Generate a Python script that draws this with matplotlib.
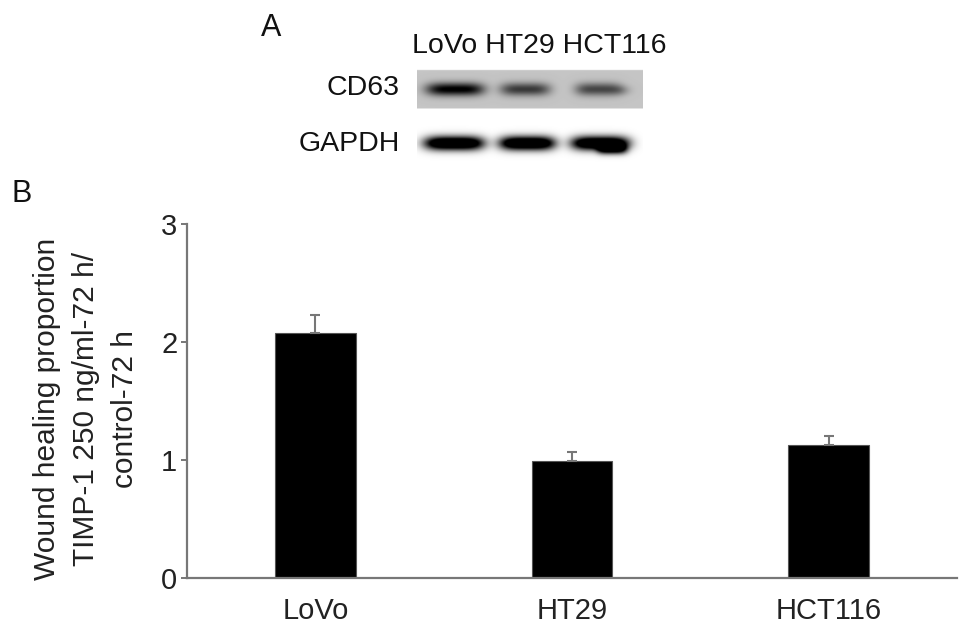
import numpy as np
import matplotlib
matplotlib.use("Agg")
import matplotlib.pyplot as plt

plt.rcParams['font.family'] = ['Liberation Sans', 'DejaVu Sans']

# panel B data
cells = ['LoVo', 'HT29', 'HCT116']
ratio = [2.08, 0.99, 1.13]
ratio_err = [0.15, 0.075, 0.075]

# panel A: relative band darkness per lane
cd63_level = [0.8, 0.55, 0.5]
gapdh_level = [1.0, 1.0, 1.0]

ylabel_lines = ['Wound healing proportion', 'TIMP-1 250 ng/ml-72 h/', 'control-72 h']

W, H = 969, 631
fig = plt.figure(figsize=(W / 100, H / 100), dpi=100)

#* Panel A - western blot
x0, x1, y0, y1 = 417, 643, 62, 168
axb = fig.add_axes([x0 / W, 1 - y1 / H, (x1 - x0) / W, (y1 - y0) / H])
xx, yy = np.meshgrid(np.arange(x0, x1, 0.5), np.arange(y0, y1, 0.5))
img = np.zeros_like(xx)
img[(yy >= 70) & (yy <= 108)] = 0.23

lane_x = [455, 525, 598]
half_w = [29, 25, 23]
for cx, hw, lvl in zip(lane_x, half_w, cd63_level):
    img += lvl * np.exp(-((xx - cx) / hw) ** 4) * np.exp(-((yy - 89) / 6.5) ** 2)
# faint tail on third CD63 band
img += 0.15 * np.exp(-((xx - 622) / 9) ** 2) * np.exp(-((yy - 90) / 5.0) ** 2)

gl_x = [454, 527, 600]
g_w = [30, 28, 29]
for cx, hw, lvl in zip(gl_x, g_w, gapdh_level):
    img += 1.5 * lvl * np.exp(-((xx - cx) / hw) ** 4) * np.exp(-((yy - 143) / 7.0) ** 2)
img += 0.9 * np.exp(-((xx - 612) / 15) ** 4) * np.exp(-((yy - 149) / 5.0) ** 2)

axb.imshow(np.clip(img, 0, 1), cmap='gray_r', vmin=0, vmax=1,
           extent=[x0, x1, y1, y0], aspect='auto', interpolation='bilinear')
axb.axis('off')

fig.text(271 / W, 1 - 28 / H, 'A', fontsize=22, ha='center', va='center', color='#111')
fig.text(412 / W, 1 - 46 / H, ' '.join(cells), fontsize=20.5,
         ha='left', va='center', color='#111')
fig.text(400 / W, 1 - 88 / H, 'CD63', fontsize=20.5, ha='right', va='center', color='#111')
fig.text(400 / W, 1 - 144 / H, 'GAPDH', fontsize=20.5, ha='right', va='center', color='#111')
fig.text(22 / W, 1 - 194 / H, 'B', fontsize=22, ha='center', va='center', color='#111')

#* Panel B - bar chart
ax = fig.add_axes([187 / W, 1 - 578 / H, (957 - 187) / W, (578 - 224) / H])
pos = np.arange(len(cells))
ax.bar(pos, ratio, width=0.315, color='black', edgecolor='#555', linewidth=0.8, zorder=2)
ax.errorbar(pos, ratio, yerr=[np.zeros(len(ratio)), ratio_err], fmt='none',
            ecolor='#777', elinewidth=1.5, capsize=3.6, capthick=1.5, zorder=3)

ax.set_xlim(-0.5, 2.5)
ax.set_ylim(0, 3)
ax.set_yticks([0, 1, 2, 3])
ax.set_xticks(pos)
ax.set_xticklabels(cells)
for s in ['top', 'right']:
    ax.spines[s].set_visible(False)
for s in ['left', 'bottom']:
    ax.spines[s].set_color('#777')
    ax.spines[s].set_linewidth(1.6)
ax.tick_params(axis='y', length=4, width=1.4, color='#777', pad=3,
               labelsize=21, labelcolor='#222')
ax.tick_params(axis='x', length=0, pad=14, labelsize=21, labelcolor='#222')

# three centred lines of the y label
for xp, line in zip([47, 86, 125], ylabel_lines):
    fig.text(xp / W, 1 - 409 / H, line, rotation=90, fontsize=21.5,
             ha='center', va='center', color='#222')

fig.savefig('out.png', dpi=100)
